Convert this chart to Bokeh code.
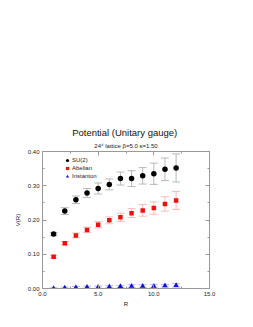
from bokeh.plotting import figure
from bokeh.models import (Range1d, FixedTicker, NumeralTickFormatter, LinearAxis,
                          Whisker, TeeHead, ColumnDataSource, Title, Legend, LegendItem)
from bokeh.embed import file_html
from bokeh.resources import INLINE

R = [1, 2, 3, 4, 5, 6, 7, 8, 9, 10, 11, 12]
su2 = [0.159, 0.226, 0.259, 0.279, 0.292, 0.304, 0.321, 0.321, 0.329, 0.335, 0.348, 0.352]
su2_err = [0.005, 0.010, 0.011, 0.013, 0.016, 0.016, 0.019, 0.023, 0.024, 0.031, 0.033, 0.041]
abelian = [0.093, 0.132, 0.155, 0.171, 0.186, 0.199, 0.208, 0.220, 0.228, 0.235, 0.247, 0.257]
abelian_err = [0.004, 0.005, 0.007, 0.008, 0.009, 0.010, 0.012, 0.013, 0.017, 0.018, 0.021, 0.026]
inst = [0.000, 0.002, 0.003, 0.004, 0.004, 0.005, 0.006, 0.007, 0.007, 0.007, 0.008, 0.009]
inst_err = [0.002, 0.002, 0.003, 0.003, 0.003, 0.003, 0.003, 0.004, 0.004, 0.004, 0.004, 0.005]

x_ticks = [0, 5, 10, 15]
x_minor = [2.5, 7.5, 12.5]
y_ticks = [0.0, 0.1, 0.2, 0.3, 0.4]
y_minor = [0.05, 0.15, 0.25, 0.35]

title_text = "Potential  (Unitary gauge)"
subtitle_text = "24\u2074 lattice \u03b2=5.0 \u03ba=1.50"
series_names = ["SU(2)", "Abelian", "Instanton"]

FONT = "Liberation Sans"
AXC = "#999999"
TXT = "#222222"

p = figure(width=237, height=312, output_backend="svg", toolbar_location=None,
           x_range=Range1d(0, 15), y_range=Range1d(0, 0.4), title=None,
           min_border_left=42, min_border_right=28, min_border_top=151, min_border_bottom=24)
p.outline_line_color = AXC
p.xgrid.visible = False
p.ygrid.visible = False
p.background_fill_color = "white"
p.border_fill_color = "white"

def style_axis(ax, fmt):
    ax.axis_line_color = AXC
    ax.major_tick_line_color = AXC
    ax.minor_tick_line_color = AXC
    ax.major_tick_in = 4
    ax.major_tick_out = 0
    ax.minor_tick_in = 2
    ax.minor_tick_out = 0
    ax.formatter = NumeralTickFormatter(format=fmt)
    ax.major_label_text_font = FONT
    ax.major_label_text_font_size = "6px"
    ax.major_label_text_color = TXT
    ax.major_label_standoff = 3
    ax.axis_label_text_font = FONT
    ax.axis_label_text_font_size = "6px"
    ax.axis_label_text_font_style = "normal"
    ax.axis_label_text_color = TXT

xa = p.xaxis[0]
xa.ticker = FixedTicker(ticks=x_ticks, minor_ticks=x_minor)
style_axis(xa, "0.0")
xa.axis_label = "R"
xa.axis_label_standoff = 2

ya = p.yaxis[0]
ya.ticker = FixedTicker(ticks=y_ticks, minor_ticks=y_minor)
style_axis(ya, "0.00")
ya.axis_label = "V(R)"
ya.axis_label_standoff = 4

ra = LinearAxis(ticker=FixedTicker(ticks=y_ticks, minor_ticks=y_minor))
style_axis(ra, "0.00")
ra.major_label_overrides = {t: "" for t in y_ticks}
p.add_layout(ra, "right")
ta = LinearAxis(ticker=FixedTicker(ticks=x_ticks, minor_ticks=x_minor))
style_axis(ta, "0.0")
ta.major_label_overrides = {t: "" for t in x_ticks}
p.add_layout(ta, "above")

sub = Title(text=subtitle_text, align="center", text_font=FONT, text_font_size="6px",
            text_font_style="normal", text_color=TXT, standoff=5)
p.add_layout(sub, "above")
main = Title(text=title_text, align="center", text_font=FONT, text_font_size="9.5px",
             text_font_style="normal", text_color="#111111", standoff=2)
p.add_layout(main, "above")

def add_series(vals, errs, color, err_color, marker, size):
    lo = [v - e for v, e in zip(vals, errs)]
    hi = [v + e for v, e in zip(vals, errs)]
    src = ColumnDataSource(dict(x=R, y=vals, lo=lo, hi=hi))
    w = Whisker(source=src, base="x", lower="lo", upper="hi", line_color=err_color, line_width=1,
                upper_head=TeeHead(size=8, line_color=err_color, line_width=1),
                lower_head=TeeHead(size=8, line_color=err_color, line_width=1))
    p.add_layout(w)
    return p.scatter("x", "y", source=src, marker=marker, size=size,
                     fill_color=color, line_color=None)

r1 = add_series(su2, su2_err, "black", "#b8b8b8", "circle", 5.5)
r2 = add_series(abelian, abelian_err, "#ee1111", "#ffb8b8", "square", 4.5)
r3 = add_series(inst, inst_err, "#1111dd", "#b8b8ff", "triangle", 5.5)

legend = Legend(items=[LegendItem(label=series_names[0], renderers=[r1]),
                       LegendItem(label=series_names[1], renderers=[r2]),
                       LegendItem(label=series_names[2], renderers=[r3])],
                location=(21, 108), orientation="vertical",
                label_text_font=FONT, label_text_font_size="6px", label_text_color=TXT,
                glyph_height=8, glyph_width=8, label_height=8, label_standoff=1,
                spacing=0, padding=0, margin=0, border_line_color=None,
                background_fill_alpha=0)
p.add_layout(legend)

open("out.html", "w").write(file_html(p, INLINE))
